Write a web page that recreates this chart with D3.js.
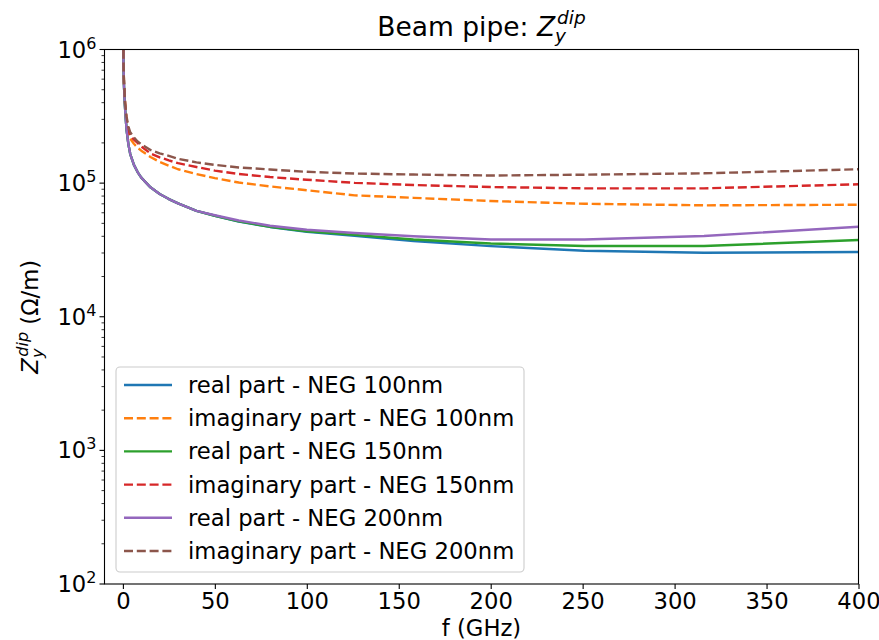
<!DOCTYPE html>
<html>
<head>
<meta charset="utf-8">
<script src="https://cdn.jsdelivr.net/npm/d3@7"></script>
<style>
  body { margin: 0; background: #fff; }
  svg { font-family: "DejaVu Sans", sans-serif; }
</style>
</head>
<body>
<svg id="chart" width="879" height="640"></svg>
<script>
// frequency points (GHz), shared by all series
var freq = [0.05, 0.3, 0.6, 1, 1.5, 2, 3, 4, 6, 8, 10, 15, 20, 25, 30, 40, 50, 63, 80, 100, 126, 158, 200, 251, 316, 400];

// impedance (Ohm/m)
var real100 = [3000000, 800000, 530000, 400000, 310000, 250000, 195000, 165000, 137000, 121000, 110000, 93000, 83000, 76000, 70500, 62000, 57000, 51500, 47000, 43300, 40300, 36900, 33800, 31200, 30100, 30500];
var imag100 = [3000000, 820000, 550000, 420000, 340000, 290000, 240000, 215000, 197000, 184000, 175000, 157000, 144000, 135000, 127000, 117000, 109000, 101000, 94500, 88500, 81000, 77600, 73500, 70100, 68200, 68900];
var real150 = [3000000, 800000, 530000, 400000, 310000, 250000, 195000, 165000, 137000, 121000, 110000, 93000, 83000, 76000, 70500, 62000, 57000, 51700, 47200, 43600, 41000, 37900, 35300, 33800, 33800, 37500];
var imag150 = [3000000, 830000, 560000, 430000, 350000, 300000, 250000, 225000, 212000, 200000, 188000, 167000, 156000, 148000, 141000, 132000, 124000, 117000, 111000, 106000, 100500, 96800, 93500, 91400, 91400, 98000];
var real200 = [3000000, 800000, 530000, 400000, 310000, 250000, 195000, 165000, 137000, 121000, 110000, 93000, 83000, 76000, 70500, 62000, 57500, 52500, 48000, 44800, 42300, 40000, 37900, 37900, 40200, 47200];
var imag200 = [3000000, 840000, 570000, 440000, 360000, 314000, 265000, 240000, 220000, 205000, 195000, 177000, 167000, 160000, 152000, 143000, 137000, 131000, 126500, 121500, 118000, 115900, 114000, 115600, 118400, 127000];

var seriesNames = [
  "real part - NEG 100nm",
  "imaginary part - NEG 100nm",
  "real part - NEG 150nm",
  "imaginary part - NEG 150nm",
  "real part - NEG 200nm",
  "imaginary part - NEG 200nm"
];
var seriesValues = [real100, imag100, real150, imag150, real200, imag200];
var seriesColors = ["#1f77b4", "#ff7f0e", "#2ca02c", "#d62728", "#9467bd", "#8c564b"];
var seriesDashed = [false, true, false, true, false, true];

var xTicks = [0, 50, 100, 150, 200, 250, 300, 350, 400];
var yTickExps = [2, 3, 4, 5, 6];

var margin = { left: 104.5, right: 858.5, top: 49.5, bottom: 584 };
var fontSize = 22.7;
var lineWidth = 2.4;
var dash = "9,3.8";

var svg = d3.select("#chart");

var x = d3.scaleLinear().domain([-10, 400]).range([margin.left, margin.right]);
var y = d3.scaleLog().domain([100, 1e6]).range([margin.bottom, margin.top]);

// clip
svg.append("defs")
  .append("clipPath")
  .attr("id", "plotclip")
  .append("rect")
  .attr("x", margin.left)
  .attr("y", margin.top)
  .attr("width", margin.right - margin.left)
  .attr("height", margin.bottom - margin.top);

// lines
var line = d3.line()
  .x(function (d) { return x(d[0]); })
  .y(function (d) { return y(d[1]); });

var lines = svg.append("g").attr("clip-path", "url(#plotclip)");
seriesValues.forEach(function (vals, i) {
  lines.append("path")
    .datum(freq.map(function (f, j) { return [f, vals[j]]; }))
    .attr("d", line)
    .attr("fill", "none")
    .attr("stroke", seriesColors[i])
    .attr("stroke-width", lineWidth)
    .attr("stroke-dasharray", seriesDashed[i] ? dash : null)
    .attr("stroke-linejoin", "round");
});

// x axis
var xAxis = svg.append("g")
  .attr("transform", "translate(0," + margin.bottom + ")")
  .call(d3.axisBottom(x).tickValues(xTicks).tickSize(5).tickSizeOuter(0).tickPadding(4));
xAxis.select(".domain").remove();
xAxis.selectAll("line").attr("stroke", "#000").attr("stroke-width", 1.1);
xAxis.selectAll("text")
  .attr("font-size", fontSize)
  .attr("fill", "#000")
  .attr("font-family", "DejaVu Sans");

// y axis major ticks
var yAxisG = svg.append("g");
yTickExps.forEach(function (e) {
  var yy = y(Math.pow(10, e));
  yAxisG.append("line")
    .attr("x1", margin.left - 5).attr("x2", margin.left)
    .attr("y1", yy).attr("y2", yy)
    .attr("stroke", "#000").attr("stroke-width", 1.1);
  var t = yAxisG.append("text")
    .attr("x", margin.left - 8)
    .attr("y", yy + 8)
    .attr("text-anchor", "end")
    .attr("font-size", fontSize);
  t.append("tspan").text("10");
  t.append("tspan").attr("font-size", 16).attr("dy", -9).text(e);
});

// y minor ticks
for (var e = 2; e < 6; e++) {
  for (var m = 2; m <= 9; m++) {
    var yy = y(m * Math.pow(10, e));
    yAxisG.append("line")
      .attr("x1", margin.left - 3).attr("x2", margin.left)
      .attr("y1", yy).attr("y2", yy)
      .attr("stroke", "#000").attr("stroke-width", 0.8);
  }
}

// frame
svg.append("rect")
  .attr("x", margin.left).attr("y", margin.top)
  .attr("width", margin.right - margin.left)
  .attr("height", margin.bottom - margin.top)
  .attr("fill", "none")
  .attr("stroke", "#000")
  .attr("stroke-width", 1.1);

// title
var title = svg.append("text")
  .attr("x", (margin.left + margin.right) / 2)
  .attr("y", 36)
  .attr("text-anchor", "middle")
  .attr("font-size", 26.5);
title.append("tspan").text("Beam pipe: ");
title.append("tspan").attr("font-style", "italic").text("Z");
title.append("tspan").attr("font-style", "italic").attr("font-size", 18.5).attr("dy", 6).text("y");
title.append("tspan").attr("font-style", "italic").attr("font-size", 18.5).attr("dx", -9).attr("dy", -18).text("dip");

// x label
svg.append("text")
  .attr("x", (margin.left + margin.right) / 2)
  .attr("y", 636)
  .attr("text-anchor", "middle")
  .attr("font-size", fontSize)
  .text("f (GHz)");

// y label
var ylab = svg.append("text")
  .attr("transform", "translate(38," + ((margin.top + margin.bottom) / 2) + ") rotate(-90)")
  .attr("text-anchor", "middle")
  .attr("font-size", fontSize);
ylab.append("tspan").attr("font-style", "italic").text("Z");
ylab.append("tspan").attr("font-style", "italic").attr("font-size", 16).attr("dy", 5).text("y");
ylab.append("tspan").attr("font-style", "italic").attr("font-size", 16).attr("dx", -8).attr("dy", -15).text("dip");
ylab.append("tspan").attr("dy", 10).text(" (Ω/m)");

// legend
var legend = svg.append("g");
legend.append("rect")
  .attr("x", 116).attr("y", 367)
  .attr("width", 408).attr("height", 205)
  .attr("rx", 4)
  .attr("fill", "#fff")
  .attr("fill-opacity", 0.8)
  .attr("stroke", "#ccc")
  .attr("stroke-width", 1.1);

seriesNames.forEach(function (name, i) {
  var ly = 385 + i * 33.2;
  legend.append("line")
    .attr("x1", 124).attr("x2", 172)
    .attr("y1", ly).attr("y2", ly)
    .attr("stroke", seriesColors[i])
    .attr("stroke-width", lineWidth)
    .attr("stroke-dasharray", seriesDashed[i] ? dash : null);
  legend.append("text")
    .attr("x", 188).attr("y", ly + 8)
    .attr("font-size", fontSize)
    .text(name);
});
</script>
</body>
</html>
